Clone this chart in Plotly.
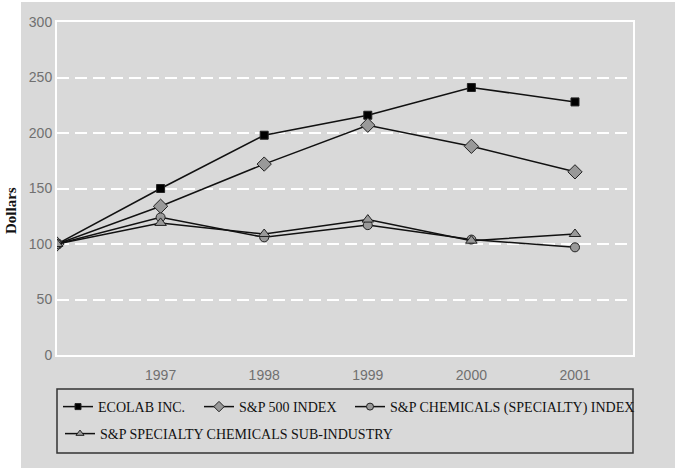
import plotly.graph_objects as go

years = [1996, 1997, 1998, 1999, 2000, 2001]
ecolab = [100, 150, 198, 216, 241, 228]
sp500 = [100, 134, 172, 207, 188, 165]
chem_index = [100, 124, 106, 117, 104, 97]
sub_industry = [100, 119, 109, 122, 103, 109]
tick_years = [1997, 1998, 1999, 2000, 2001]
y_ticks = [0, 50, 100, 150, 200, 250, 300]

names = ["ECOLAB INC.", "S&P 500 INDEX", "S&P CHEMICALS (SPECIALTY) INDEX",
         "S&P SPECIALTY CHEMICALS SUB-INDUSTRY"]
series = [ecolab, sp500, chem_index, sub_industry]
symbols = ["square", "diamond", "circle", "triangle-up"]
fills = ["#000000", "#999999", "#999999", "#999999"]
sizes = [8, 11, 9, 10]
legend_sizes = [6, 8, 7, 7]
legend_ids = ["legend", "legend2", "legend3", "legend4"]

L, R, T, B = 57, 42, 22, 113
W, H = 675, 468
pw, ph = W - L - R, H - T - B

def px2x(px):
    return (px - L) / pw

def py2y(py):
    return (H - B - py) / ph

fig = go.Figure()
line = dict(color="#111111", width=1.5)
for nm, ys, sym, fc, sz in zip(names, series, symbols, fills, sizes):
    fig.add_trace(go.Scatter(x=years, y=ys, name=nm, mode="lines+markers", line=line,
                             marker=dict(symbol=sym, size=sz, color=fc,
                                         line=dict(color="#222222", width=1)),
                             showlegend=False))
for nm, sym, fc, sz, lg in zip(names, symbols, fills, legend_sizes, legend_ids):
    fig.add_trace(go.Scatter(x=[None], y=[None], name=nm, mode="lines+markers", line=line,
                             marker=dict(symbol=sym, size=sz, color=fc,
                                         line=dict(color="#222222", width=1)),
                             showlegend=True, legend=lg))

gray = "#d9d9d9"
shapes = [
    dict(type="rect", xref="paper", yref="paper", x0=px2x(21), x1=px2x(W + 5),
         y0=py2y(H + 5), y1=py2y(2), fillcolor=gray, line=dict(width=0), layer="below"),
    dict(type="rect", xref="paper", yref="paper", x0=px2x(57), x1=px2x(633),
         y0=py2y(453), y1=py2y(389), fillcolor="rgba(0,0,0,0)",
         line=dict(color="#333333", width=1.5), layer="above"),
]

legend_font = dict(family="Liberation Serif", size=14, color="#111111")
tick_font = dict(family="Liberation Sans", size=14, color="#707070")

def leg(x_px, y_px):
    return dict(orientation="h", x=px2x(x_px), y=py2y(y_px), xanchor="left", yanchor="top",
                bgcolor="rgba(0,0,0,0)", font=legend_font, itemwidth=30)

fig.update_layout(
    width=W, height=H,
    margin=dict(l=L, r=R, t=T, b=B, pad=0, autoexpand=False),
    paper_bgcolor="#ffffff", plot_bgcolor=gray,
    shapes=shapes,
    xaxis=dict(range=[1996, 2001.56], tickvals=tick_years, ticktext=[str(y) for y in tick_years],
               showgrid=False, zeroline=False, showline=True, linecolor="#ffffff", linewidth=2,
               mirror=True, ticks="", ticklen=0, tickfont=tick_font, ticklabelstandoff=6),
    yaxis=dict(range=[0, 300], tickvals=y_ticks, showgrid=True, gridcolor="#ffffff",
               griddash="12px,6px", gridwidth=1.5, zeroline=False, showline=True,
               linecolor="#ffffff", linewidth=2, mirror=True, ticks="", tickfont=tick_font),
    showlegend=True,
    legend=leg(58, 391),
    legend2=leg(199, 391),
    legend3=leg(350, 391),
    legend4=leg(60, 418),
    annotations=[dict(text="<b>Dollars</b>", textangle=-90, xref="paper", yref="paper",
                      x=px2x(11), y=py2y(211), xanchor="center", yanchor="middle",
                      showarrow=False,
                      font=dict(family="Liberation Serif", size=15, color="#111111"))],
)

fig.write_html("out.html", config={"displayModeBar": False},
               post_script="document.body.style.margin='0px';")
